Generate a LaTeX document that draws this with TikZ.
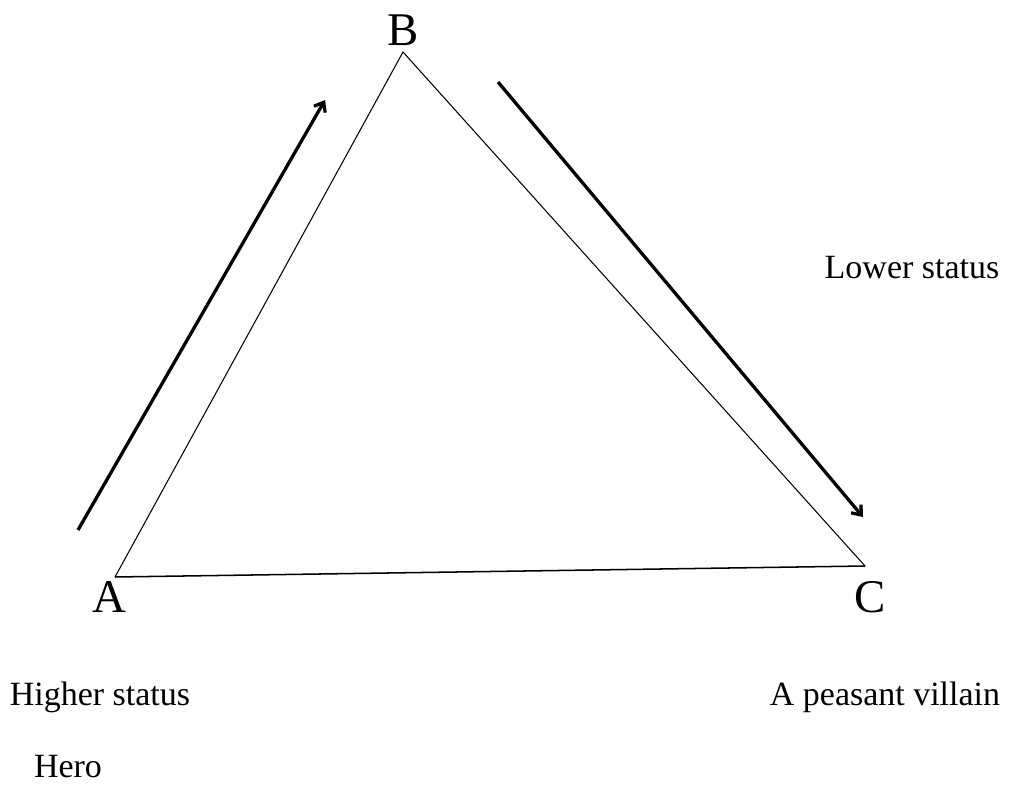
\documentclass[tikz,border=0pt]{standalone}
\usepackage{fontspec}
\setmainfont{Liberation Serif}
\usetikzlibrary{arrows.meta}
\tikzstyle{vertex} = [
font=\fontsize{40}{42}\selectfont,
inner sep=0pt
]
\tikzstyle{note} = [
font=\fontsize{29}{32}\selectfont,
inner sep=0pt
]
\tikzstyle{side}=[line width=0.9pt]
\tikzstyle{arrow}=[line width=2.8pt,-{Straight Barb[length=7pt,width=11pt]}]

\begin{document}
\begin{tikzpicture}[x=0.03cm,y=-0.03cm]
        \useasboundingbox (0,0) rectangle (1013,789);
        
        \node (A) [vertex] at (109,597) {A};
        
        \node (B) [vertex] at (403,30) {B};
        
        \node (C) [vertex] at (870,597) {C};
        
        \coordinate (a) at (115,577);
        \coordinate (b) at (403,52);
        \coordinate (c) at (865,566);
        
        \draw [side] (a)--(b)--(c);
        
        \draw [side,line width=1.3pt] (a)--(c);
        
        \coordinate (up0) at (78,530);
        \coordinate (up1) at (325,100);
        \coordinate (dn0) at (498,82);
        \coordinate (dn1) at (863,517);
        
        \draw [arrow] (up0)--(up1);
        
        \draw [arrow] (dn0)--(dn1);
        
        \node (low) [note] at (912,268) {Lower status};
        
        \node (high) [note] at (100,697) {Higher status};
        
        \node (villain) [note] at (885,697) {A peasant villain};
        
        \node (hero) [note] at (68,767) {Hero};
        
        \end{tikzpicture}
\end{document}
